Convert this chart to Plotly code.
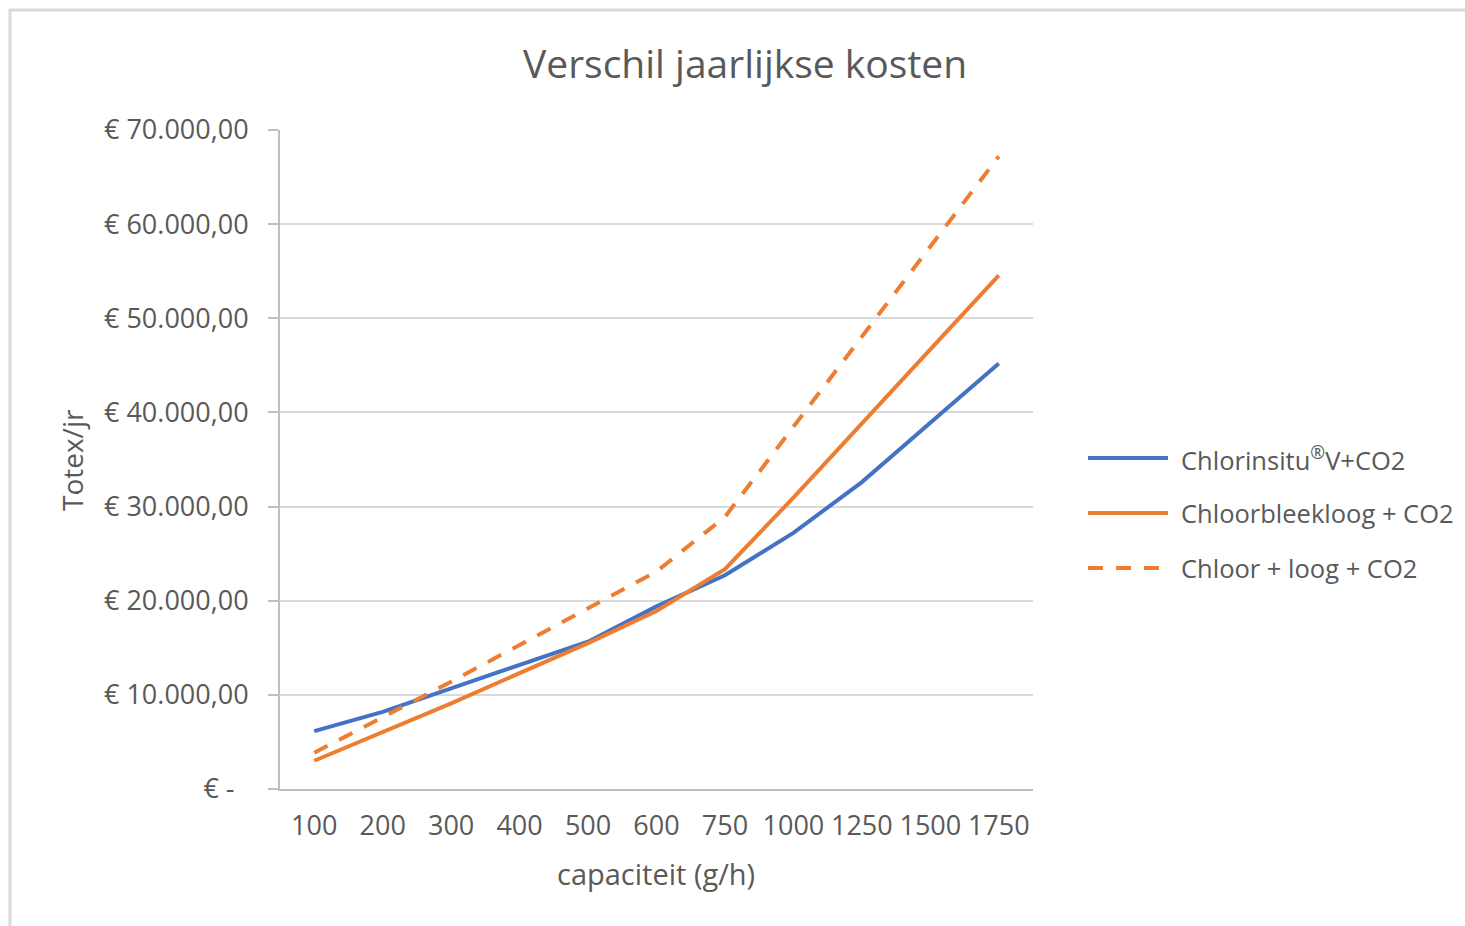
import plotly.graph_objects as go

# capacity categories (g/h)
capaciteit = ["100", "200", "300", "400", "500", "600", "750", "1000", "1250", "1500", "1750"]

# yearly totex (EUR/yr) per system
chlorinsitu = [6150, 8200, 10700, 13200, 15650, 19400, 22700, 27200, 32600, 38900, 45200]
chloorbleekloog = [3000, 6050, 9100, 12300, 15500, 18900, 23350, 30950, 38900, 46700, 54550]
chloor_loog = [3850, 7600, 11400, 15300, 19200, 23100, 28900, 38500, 48100, 57600, 67200]

series_names = ["Chlorinsitu<sup>\u00ae</sup>V+CO2", "Chloorbleekloog + CO2", "Chloor + loog + CO2"]

y_tick_vals = [0, 10000, 20000, 30000, 40000, 50000, 60000, 70000]
y_tick_text = ["\u20ac -\u00a0\u00a0", "\u20ac 10.000,00", "\u20ac 20.000,00", "\u20ac 30.000,00",
               "\u20ac 40.000,00", "\u20ac 50.000,00", "\u20ac 60.000,00", "\u20ac 70.000,00"]

BLUE = "#4472C4"
ORANGE = "#ED7D31"
TEXT = "#595959"
FONT = "Open Sans, Segoe UI, sans-serif"

W, H = 1465, 926
L, R, T, B = 280, 432, 130, 137
PW, PH = W - L - R, H - T - B


def px(x):
    return (x - L) / PW


def py(y):
    return (H - B - y) / PH


styles = [
    dict(color=BLUE, width=4),
    dict(color=ORANGE, width=4),
    dict(color=ORANGE, width=4, dash="15px,13px"),
]

fig = go.Figure()
for name, vals, st in zip(series_names, [chlorinsitu, chloorbleekloog, chloor_loog], styles):
    fig.add_trace(go.Scatter(x=capaciteit, y=vals, name=name, mode="lines",
                             line=st, showlegend=False))

shapes = [
    # chart area frame
    dict(type="rect", xref="paper", yref="paper", x0=px(10), x1=px(W + 20),
         y0=py(H + 20), y1=py(10), line=dict(color="#D9D9D9", width=3), layer="below"),
]
annotations = [
    dict(text="Verschil jaarlijkse kosten", xref="paper", yref="paper", x=px(745), y=py(63),
         showarrow=False, font=dict(family=FONT, size=39, color=TEXT), xanchor="center", yanchor="middle"),
    dict(text="capaciteit (g/h)", xref="paper", yref="paper", x=px(656), y=py(873),
         showarrow=False, font=dict(family=FONT, size=29, color=TEXT), xanchor="center", yanchor="middle"),
    dict(text="Totex/jr", xref="paper", yref="paper", x=px(72), y=py(460), textangle=-90,
         showarrow=False, font=dict(family=FONT, size=28, color=TEXT), xanchor="center", yanchor="middle"),
]

# legend entries drawn at the right of the plot
legend_rows = [458, 513, 568]
for name, st, ry in zip(series_names, styles, legend_rows):
    shapes.append(dict(type="line", xref="paper", yref="paper", x0=px(1088), x1=px(1168),
                       y0=py(ry), y1=py(ry), line=st))
    annotations.append(dict(text=name, xref="paper", yref="paper", x=px(1179), y=py(ry),
                            showarrow=False, xanchor="left", yanchor="middle",
                            font=dict(family=FONT, size=25.5, color=TEXT)))

fig.update_layout(
    width=W, height=H,
    margin=dict(l=L, r=R, t=T, b=B),
    paper_bgcolor="white", plot_bgcolor="white",
    font=dict(family=FONT, size=27, color=TEXT),
    shapes=shapes, annotations=annotations,
    showlegend=False,
)
fig.update_xaxes(type="category", range=[-0.5, 10.5], showgrid=False,
                 showline=True, linecolor="#BFBFBF", linewidth=2,
                 ticks="", tickfont=dict(family=FONT, size=27, color=TEXT),
                 ticklabelstandoff=12, zeroline=False)
fig.update_yaxes(range=[0, 70000], tickvals=y_tick_vals, ticktext=y_tick_text,
                 showgrid=True, gridcolor="#D9D9D9", gridwidth=2,
                 showline=True, linecolor="#BFBFBF", linewidth=2,
                 ticks="outside", ticklen=10, tickcolor="#BFBFBF", tickwidth=2,
                 tickfont=dict(family=FONT, size=27, color=TEXT),
                 ticklabelstandoff=14, zeroline=False)

fig.write_html("out.html")
